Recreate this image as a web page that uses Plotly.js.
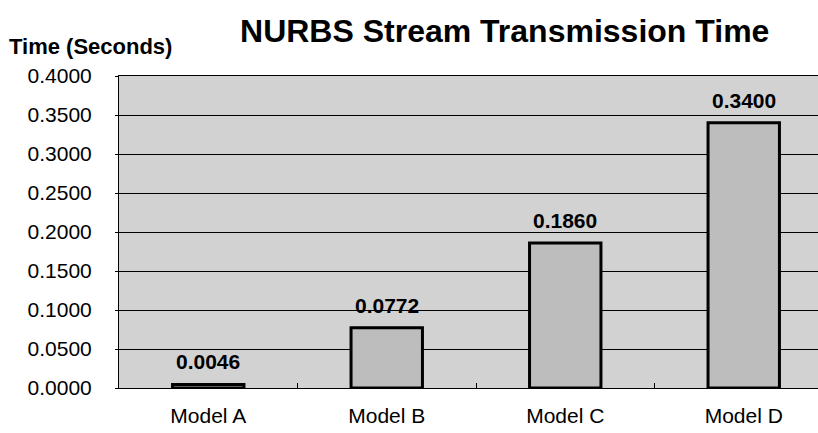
<!DOCTYPE html>
<html><head><meta charset="utf-8">
<script src="https://cdn.plot.ly/plotly-3.0.1.min.js"></script>
<style>html,body{margin:0;padding:0;overflow:hidden;background:#fff}</style>
</head><body><div id="chart" style="width:818px;height:433px"></div>
<script>
const categories = ["Model A", "Model B", "Model C", "Model D"];
const times = [0.0046, 0.0772, 0.1860, 0.3400];
const yTicks = [0, 0.05, 0.1, 0.15, 0.2, 0.25, 0.3, 0.35, 0.4];
const yTickLabels = ["0.0000","0.0500","0.1000","0.1500","0.2000","0.2500","0.3000","0.3500","0.4000"];
const labels = times.map(v => v.toFixed(4));

const font = "Liberation Sans, Arial, sans-serif";
const valueAnnotations = categories.map((c, i) => ({
  x: c, y: times[i], xref: "x", yref: "y", text: labels[i], showarrow: false,
  xanchor: "center", yanchor: "bottom", yshift: 9,
  font: {family: font, size: 21, color: "#000", weight: "bold"}
}));
Plotly.newPlot("chart", [{
  type: "bar",
  x: categories,
  y: times,
  width: 0.4,
  marker: {color: "#bdbdbd", line: {color: "#000", width: 3}},
  hoverinfo: "none"
}], {
  width: 818, height: 433,
  margin: {l: 119, r: 0, t: 76, b: 45},
  paper_bgcolor: "#fff",
  plot_bgcolor: "#d2d2d2",
  showlegend: false,
  title: {text: "NURBS Stream Transmission Time", x: 0.617, xanchor: "center", y: 0.93, yanchor: "middle",
          font: {family: font, size: 32, color: "#000", weight: "bold"}},
  xaxis: {
    type: "category", range: [-0.5, 3.416],
    showgrid: false, zeroline: false,
    showline: true, linecolor: "#000", linewidth: 1, mirror: true,
    ticks: "inside", tickson: "boundaries", ticklen: 5, tickcolor: "#000",
    tickfont: {family: font, size: 21, color: "#000"},
    ticklabelstandoff: 9
  },
  yaxis: {
    range: [0, 0.4], tickvals: yTicks, ticktext: yTickLabels,
    showgrid: true, gridcolor: "#000", gridwidth: 1,
    zeroline: false, showline: true, linecolor: "#000", linewidth: 1, mirror: true,
    ticks: "outside", ticklen: 3, tickcolor: "#000",
    tickfont: {family: font, size: 21, color: "#000"},
    ticklabelstandoff: 19
  },
  annotations: [{
    text: "Time (Seconds)", xref: "paper", yref: "paper", x: -0.16, y: 1.095,
    xanchor: "left", yanchor: "middle", showarrow: false,
    font: {family: font, size: 22, color: "#000", weight: "bold"}
  }].concat(valueAnnotations)
}, {staticPlot: true});
</script></body></html>
